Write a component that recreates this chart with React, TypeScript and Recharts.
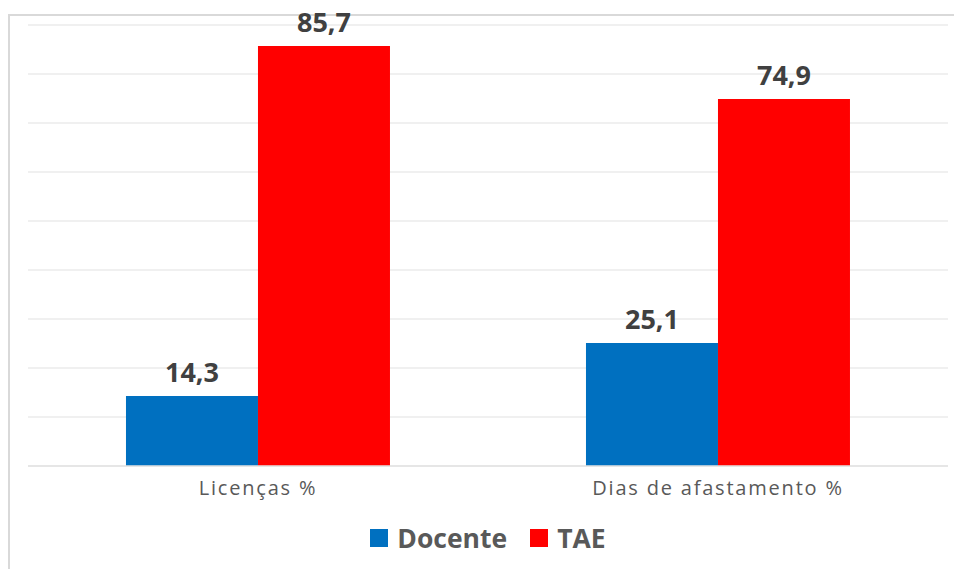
import React from "react";
import { BarChart, Bar, XAxis, YAxis, CartesianGrid, LabelList, Legend } from "recharts";

const categories = ["Licenças %", "Dias de afastamento %"];
const docente = [14.3, 25.1];
const tae = [85.7, 74.9];
const yTicks = [0, 10, 20, 30, 40, 50, 60, 70, 80, 90];

const data = categories.map((c, i) => ({ name: c, Docente: docente[i], TAE: tae[i] }));

const FONT = "'Open Sans', 'Noto Sans', sans-serif";
const fmt = (v: any) => String(v).replace(".", ",");

const LegendContent = (props: any) => {
  const items = props.payload || [];
  return (
    <div style={{ display: "flex", justifyContent: "center", alignItems: "center", height: 36, fontFamily: FONT }}>
      {items.map((it: any, i: number) => (
        <div key={i} style={{ display: "flex", alignItems: "center", marginLeft: i === 0 ? 0 : 23 }}>
          <div style={{ width: 18, height: 18, background: it.color, marginRight: 9 }} />
          <span style={{ fontSize: 26.5, fontWeight: 700, color: "#595959", lineHeight: "36px" }}>{it.value}</span>
        </div>
      ))}
    </div>
  );
};

export default function App() {
  return (
    <div style={{ position: "fixed", left: 0, top: 0, width: 954, height: 569, overflow: "hidden", background: "#fff" }}>
      <div
        style={{
          position: "absolute",
          left: 8,
          top: 14,
          width: 1000,
          height: 700,
          borderLeft: "2px solid #d9d9d9",
          borderTop: "2px solid #d9d9d9",
        }}
      />
      <div style={{ position: "absolute", left: 0, top: 0 }}>
        <BarChart
          width={954}
          height={569}
          data={data}
          margin={{ top: 25, right: 6, left: 28, bottom: 13 }}
          barCategoryGap="21.3%"
          barGap={0}
        >
          <CartesianGrid horizontal vertical={false} stroke="#ebebeb" strokeWidth={1.5} />
          <YAxis hide domain={[0, 90]} ticks={yTicks} width={0} />
          <XAxis
            dataKey="name"
            height={54}
            tickLine={false}
            axisLine={{ stroke: "#e3e3e3", strokeWidth: 1.5 }}
            tickMargin={9}
            tick={{ fill: "#595959", fontSize: 20, fontFamily: FONT, letterSpacing: 1.8 }}
          />
          <Legend verticalAlign="bottom" content={<LegendContent />} />
          <Bar dataKey="Docente" fill="#0070C0" isAnimationActive={false}>
            <LabelList
              dataKey="Docente"
              position="top"
              offset={14}
              formatter={fmt}
              style={{ fill: "#404040", fontSize: 27, fontWeight: 700, fontFamily: FONT }}
            />
          </Bar>
          <Bar dataKey="TAE" fill="#FF0000" isAnimationActive={false}>
            <LabelList
              dataKey="TAE"
              position="top"
              offset={14}
              formatter={fmt}
              style={{ fill: "#404040", fontSize: 27, fontWeight: 700, fontFamily: FONT }}
            />
          </Bar>
        </BarChart>
      </div>
    </div>
  );
}
